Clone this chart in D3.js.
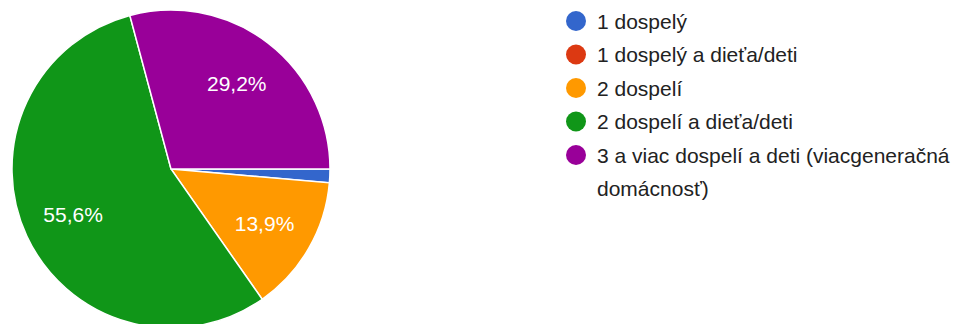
<!DOCTYPE html>
<html><head><meta charset="utf-8">
<script src="https://cdn.jsdelivr.net/npm/d3@7"></script>
<style>html,body{margin:0;padding:0;background:#fff;}</style>
</head><body>
<svg id="chart" width="962" height="324"></svg>
<script>
const categories = ["1 dospelý", "1 dospelý a dieťa/deti", "2 dospelí", "2 dospelí a dieťa/deti", "3 a viac dospelí a deti (viacgeneračná domácnosť)"];
const counts = [1, 0, 10, 40, 21];
const colors = ["#3366cc", "#dc3912", "#ff9900", "#109618", "#990099"];
const legendLines = [["1 dospelý"], ["1 dospelý a dieťa/deti"], ["2 dospelí"], ["2 dospelí a dieťa/deti"], ["3 a viac dospelí a deti (viacgeneračná", "domácnosť)"]];

const FONT = "Arial, 'Liberation Sans', sans-serif";
const svg = d3.select("#chart");
const cx = 171, cy = 169, R = 159;
const total = d3.sum(counts);
const data = categories.map((c, i) => ({cat: c, v: counts[i], color: colors[i]}));

const pie = d3.pie().value(d => d.v).sort(null)
  .startAngle(Math.PI / 2).endAngle(Math.PI / 2 + 2 * Math.PI);
const arcs = pie(data);
const arc = d3.arc().innerRadius(0).outerRadius(R);
const labelArc = d3.arc().innerRadius(108).outerRadius(108);

const g = svg.append("g").attr("transform", `translate(${cx},${cy})`);
g.selectAll("path").data(arcs.filter(d => d.data.v > 0)).join("path")
  .attr("d", arc).attr("fill", d => d.data.color)
  .attr("stroke", "#fff").attr("stroke-width", 1.5);

const fmt = v => (v * 100).toFixed(1).replace(".", ",") + "%";
g.selectAll("text.lbl").data(arcs.filter(d => d.data.v / total > 0.05)).join("text")
  .attr("class", "lbl")
  .attr("transform", d => `translate(${labelArc.centroid(d)})`)
  .attr("text-anchor", "middle").attr("dy", "0.36em")
  .attr("fill", "#fff").attr("font-family", FONT).attr("font-size", 21)
  .text(d => fmt(d.data.v / total));

// legend
const lg = svg.append("g");
const lx = 576, ly0 = 21, step = 33.5;
data.forEach((d, i) => {
  const y = ly0 + i * step;
  lg.append("circle").attr("cx", lx).attr("cy", y).attr("r", 10).attr("fill", d.color);
  const t = lg.append("text").attr("x", lx + 21).attr("y", y)
    .attr("font-family", FONT).attr("font-size", 21).attr("fill", "#222");
  legendLines[i].forEach((ln, j) => {
    t.append("tspan").attr("x", lx + 21).attr("dy", j === 0 ? "0.36em" : "1.6em").text(ln);
  });
});
</script>
</body></html>
